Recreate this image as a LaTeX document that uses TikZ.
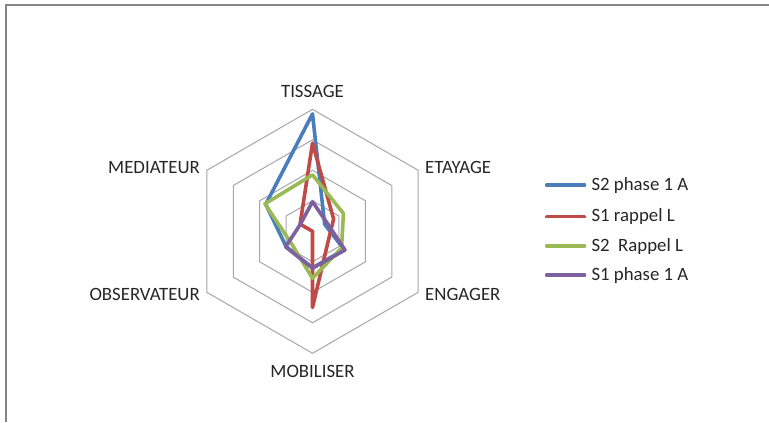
\documentclass[tikz,border=0pt]{standalone}
\usepackage{fontspec}
\setmainfont{Carlito}
\usepackage{tikz}
\usepackage{xcolor}
\definecolor{s2blue}{HTML}{4A7EBB}
\definecolor{s1red}{HTML}{BE4B48}
\definecolor{s2green}{HTML}{98B954}
\definecolor{s1purple}{HTML}{7D60A0}
\tikzstyle{frame}=[
        draw = black!47,
        line width = 1pt
    ]
\tikzstyle{ring}=[
    draw = black!35,
    line width = 0.5pt
]
\tikzstyle{blue serie}=[
    draw = s2blue,
    line width = 1.8pt,
    line join = round
]
\tikzstyle{red serie}=[
    draw = s1red,
    line width = 1.8pt,
    line join = round
]
\tikzstyle{green serie}=[
    draw = s2green,
    line width = 1.8pt,
    line join = round
]
\tikzstyle{purple serie}=[
    draw = s1purple,
    line width = 1.8pt,
    line join = round
]

\begin{document}
\begin{tikzpicture}[x=0.5pt, y=0.5pt, lbl/.style = {font=\fontsize{9.4}{11}\selectfont, text=black!85}]
        \useasboundingbox (0,0) rectangle (769,422);
        \draw[frame] (5.5,0) -- (5.5,416.5) -- (769,416.5);

        \coordinate (c) at (312.5,190.7);
        \begin{scope}[shift={(c)}, x=15.25pt, y=15.25pt]
        \foreach \r in {1,...,4}
            \draw[ring] (90:\r) -- (30:\r) -- (-30:\r) -- (-90:\r) -- (-150:\r) -- (150:\r) -- cycle;

        \node[lbl] (tissage) at (90:4.6) {TISSAGE};
        \node[lbl, right, yshift=1.3pt] (etayage) at (30:4) {ETAYAGE};
        \node[lbl, right, yshift=-1.3pt] (engager) at (-30:4) {ENGAGER};
        \node[lbl] (mobiliser) at (-90:4.6) {MOBILISER};
        \node[lbl, left, yshift=-1.3pt] (observateur) at (-150:4) {OBSERVATEUR};
        \node[lbl, left, yshift=1.3pt] (mediateur) at (150:4) {MEDIATEUR};

        \draw[blue serie] (90:3.85) -- (30:0.46) -- (-30:1.2) -- (-90:1.2) -- (-150:1.0) -- (150:1.77) -- cycle;
        \draw[red serie] (90:2.89) -- (30:0.8) -- (-30:0.6) -- (-90:2.5) -- (-150:0) -- (150:0.47) -- cycle;
        \draw[green serie] (90:1.85) -- (30:1.17) -- (-30:1.1) -- (-90:1.54) -- (-150:0.8) -- (150:1.8) -- cycle;
        \draw[purple serie] (90:0.97) -- (30:0.55) -- (-30:1.23) -- (-90:1.21) -- (-150:1.02) -- (150:0.46) -- cycle;
        \end{scope}

        \coordinate (k1) at (546.7,237);
        \coordinate (k2) at (546.7,205.3);
        \coordinate (k3) at (546.7,176);
        \coordinate (k4) at (546.7,147);
        \node[lbl, anchor=west] (1) at (584.5,237) {S2 phase 1 A};
        \node[lbl, anchor=west] (2) at (584.5,205.3) {S1 rappel L};
        \node[lbl, anchor=west] (3) at (584.5,176) {S2\ \ Rappel L};
        \node[lbl, anchor=west] (4) at (584.5,147) {S1 phase 1 A};

        \draw[blue serie, line cap=round] (k1) -- (1);
        \draw[red serie, line cap=round] (k2) -- (2);
        \draw[green serie, line cap=round] (k3) -- (3);
        \draw[purple serie, line cap=round] (k4) -- (4);

    \end{tikzpicture}
\end{document}
